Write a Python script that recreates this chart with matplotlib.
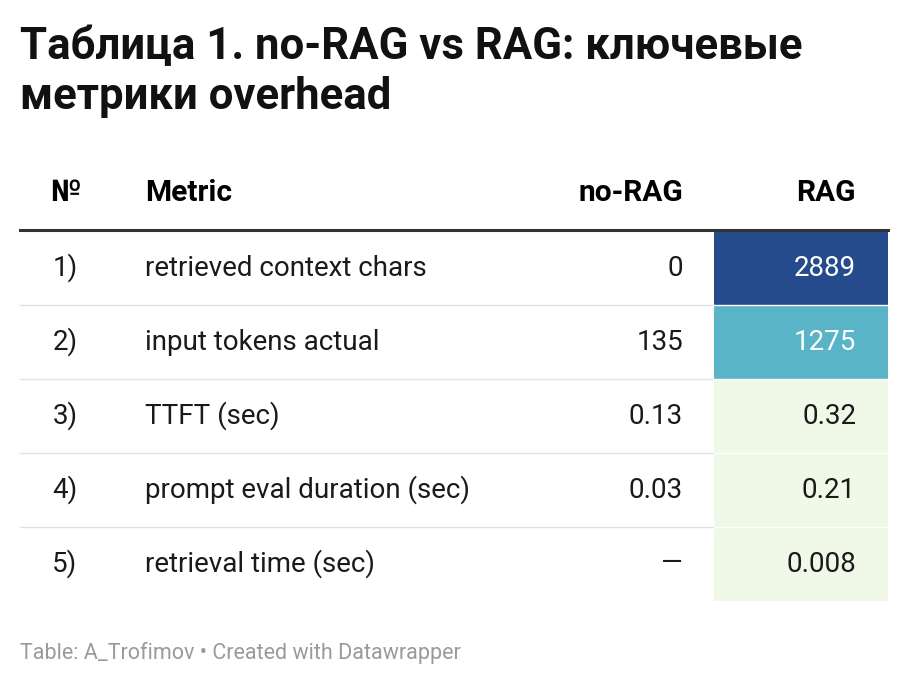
import matplotlib.pyplot as plt
from matplotlib.patches import Rectangle

title_lines = ["Таблица 1. no-RAG vs RAG: ключевые", "метрики overhead"]
headers = ["№", "Metric", "no-RAG", "RAG"]
nums = ["1)", "2)", "3)", "4)", "5)"]
metrics = ["retrieved context chars", "input tokens actual", "TTFT (sec)",
           "prompt eval duration (sec)", "retrieval time (sec)"]
no_rag = ["0", "135", "0.13", "0.03", "—"]
rag = ["2889", "1275", "0.32", "0.21", "0.008"]
rag_colors = ["#254b8c", "#5ab4c8", "#f0f8e8", "#f0f8e8", "#f0f8e8"]
rag_text = ["white", "white", "#1a1a1a", "#1a1a1a", "#1a1a1a"]
footer = "Table: A_Trofimov • Created with Datawrapper"

plt.rcParams['font.family'] = ['Roboto', 'DejaVu Sans']

fig = plt.figure(figsize=(9.08, 6.86), dpi=100)
ax = fig.add_axes([0, 0, 1, 1])
ax.set_xlim(0, 908)
ax.set_ylim(686, 0)
ax.axis('off')

ax.text(20, 47, title_lines[0], fontsize=31.5, fontweight='bold',
        va='center', ha='left', color='#111111')
ax.text(20, 97, title_lines[1], fontsize=31.5, fontweight='bold',
        va='center', ha='left', color='#111111')

hy = 193
hfs = 21.5
ax.text(65, hy, headers[0], fontsize=hfs, fontweight='bold', ha='center', va='center')
ax.text(145, hy, headers[1], fontsize=hfs, fontweight='bold', ha='left', va='center')
ax.text(683, hy, headers[2], fontsize=hfs, fontweight='bold', ha='right', va='center')
ax.text(856, hy, headers[3], fontsize=hfs, fontweight='bold', ha='right', va='center')
ax.plot([20, 888], [230, 230], color='#333333', lw=2.2)

top, rh = 231, 74
fs = 20
for i in range(len(metrics)):
    y0 = top + i * rh
    yc = y0 + rh / 2
    ax.add_patch(Rectangle((714, y0), 174, rh, color=rag_colors[i], lw=0))
    if i > 0:
        ax.plot([20, 714], [y0, y0], color='#e2e2e2', lw=1)
        ax.plot([714, 888], [y0, y0], color='white', lw=1)
    ax.text(65, yc, nums[i], fontsize=fs, ha='center', va='center', color='#1a1a1a')
    ax.text(145, yc, metrics[i], fontsize=fs, ha='left', va='center', color='#1a1a1a')
    ax.text(683, yc, no_rag[i], fontsize=fs, ha='right', va='center', color='#1a1a1a')
    ax.text(856, yc, rag[i], fontsize=fs, ha='right', va='center', color=rag_text[i])

ax.text(20, 653, footer, fontsize=15.5, ha='left', va='center', color='#9a9a9a')

fig.savefig("out.png", dpi=100)
